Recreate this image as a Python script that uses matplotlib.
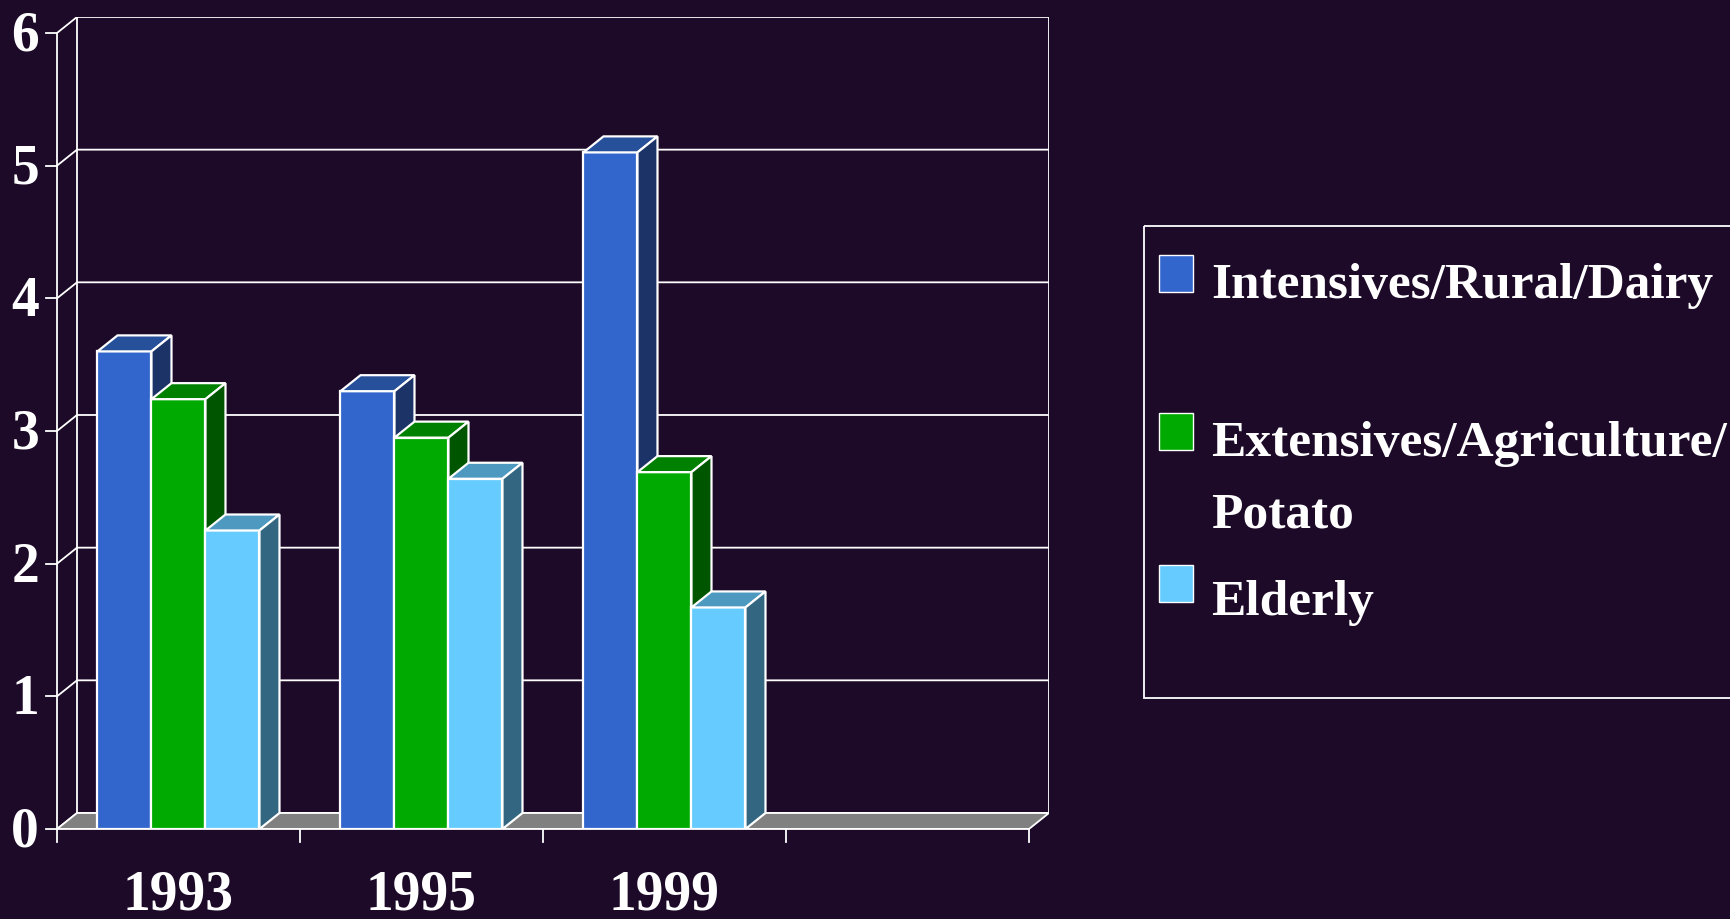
import matplotlib
matplotlib.use('Agg')
import matplotlib.pyplot as plt
from matplotlib.patches import Polygon, Rectangle

years = ['1993', '1995', '1999', '']
labels = ['Intensives/Rural/Dairy', 'Extensives/Agriculture/\nPotato', 'Elderly']
intensive = [3.6, 3.3, 5.1]
extensive = [3.24, 2.95, 2.69]
elderly = [2.25, 2.64, 1.67]
yticks = [0, 1, 2, 3, 4, 5, 6]

front_colors = ['#3366CC', '#00AA00', '#66CCFF']
top_colors = ['#27509A', '#008000', '#4D99BF']
side_colors = ['#1B3366', '#005500', '#336680']
bg = '#1C0A28'

plt.rcParams['font.family'] = ['Liberation Serif', 'DejaVu Serif']
plt.rcParams['font.weight'] = 'bold'

W, H = 1731, 920
fig = plt.figure(figsize=(W / 100, H / 100), dpi=100, facecolor=bg)

# plot area in pixels: front axis at x=57, floor at y=830
px_x = 243.0    # pixels per category
px_y = 132.67   # pixels per unit
x0, y0 = 57, 830
dx, dy = 20 / px_x, 16 / px_y   # 3d depth
ncat = len(years)
ymax = yticks[-1]
ax = fig.add_axes([x0 / W, (H - y0) / H, (ncat + dx) * px_x / W, (ymax + dy) * px_y / H])
ax.set_xlim(0, ncat + dx)
ax.set_ylim(0, ymax + dy)
ax.axis('off')

lw = 1.3
# floor
ax.add_patch(Polygon([(0, 0), (ncat, 0), (ncat + dx, dy), (dx, dy)],
                     fc='#808080', ec='white', lw=lw, zorder=1))
# walls + gridlines
for v in yticks:
    ax.plot([0, dx, ncat + dx], [v, v + dy, v + dy], color='white', lw=lw, zorder=0)
ax.plot([dx, dx], [dy, ymax + dy], color='white', lw=lw, zorder=0)
ax.plot([ncat + dx, ncat + dx], [dy, ymax + dy], color='white', lw=lw, zorder=0)

# front value axis
ax.plot([0, 0], [0, ymax], color='white', lw=lw, zorder=2, clip_on=False)
for v in yticks:
    ax.plot([-11 / px_x, 0], [v, v], color='white', lw=lw, clip_on=False)
    ax.text(-18 / px_x, v - 3 / px_y, str(v), color='white', fontsize=40, ha='right',
            va='center', fontweight='bold')

# category axis
ax.plot([0, ncat], [0, 0], color='white', lw=lw, zorder=20, clip_on=False)
for i in range(ncat + 1):
    ax.plot([i, i], [0, -13 / px_y], color='white', lw=lw, clip_on=False)
for i, yr in enumerate(years):
    ax.text(i + 0.5, -80 / px_y, yr, color='white', fontsize=40, ha='center',
            va='baseline', fontweight='bold')

# bars
values = [intensive, extensive, elderly]
w = 1 / 4.5
z = 3
for i in range(len(intensive)):
    for j, vals in enumerate(values):
        v = vals[i]
        l = i + 0.75 * w + j * w
        r = l + w
        ax.add_patch(Polygon([(l, 0), (r, 0), (r, v), (l, v)],
                             fc=front_colors[j], ec='white', lw=1.6, zorder=z))
        ax.add_patch(Polygon([(l, v), (r, v), (r + dx, v + dy), (l + dx, v + dy)],
                             fc=top_colors[j], ec='white', lw=1.6, zorder=z))
        ax.add_patch(Polygon([(r, 0), (r + dx, dy), (r + dx, v + dy), (r, v)],
                             fc=side_colors[j], ec='white', lw=1.6, zorder=z))
        z += 1

# legend, drawn in pixel units relative to its box
bl, bt, bb = 1143, 226, 700
lw_px = W - bl + 20
lh_px = bb - bt
lax = fig.add_axes([bl / W, (H - bb) / H, lw_px / W, lh_px / H])
lax.set_xlim(0, lw_px)
lax.set_ylim(lh_px, 0)
lax.axis('off')
lax.add_patch(Rectangle((1, 1), lw_px + 10, lh_px - 2, fc='none', ec='white',
                        lw=1.3, clip_on=False))
sq_tops = [30, 188, 340]
baselines = [72, 230, 389]
for k, lab in enumerate(labels):
    lax.add_patch(Rectangle((16, sq_tops[k]), 34, 37, fc=front_colors[k],
                            ec='white', lw=1.0))
    for n, line in enumerate(lab.split('\n')):
        lax.text(68, baselines[k] + n * 71, line, color='white', fontsize=37,
                 ha='left', va='baseline', fontweight='bold')

fig.savefig('out.png', dpi=100, facecolor=bg)
